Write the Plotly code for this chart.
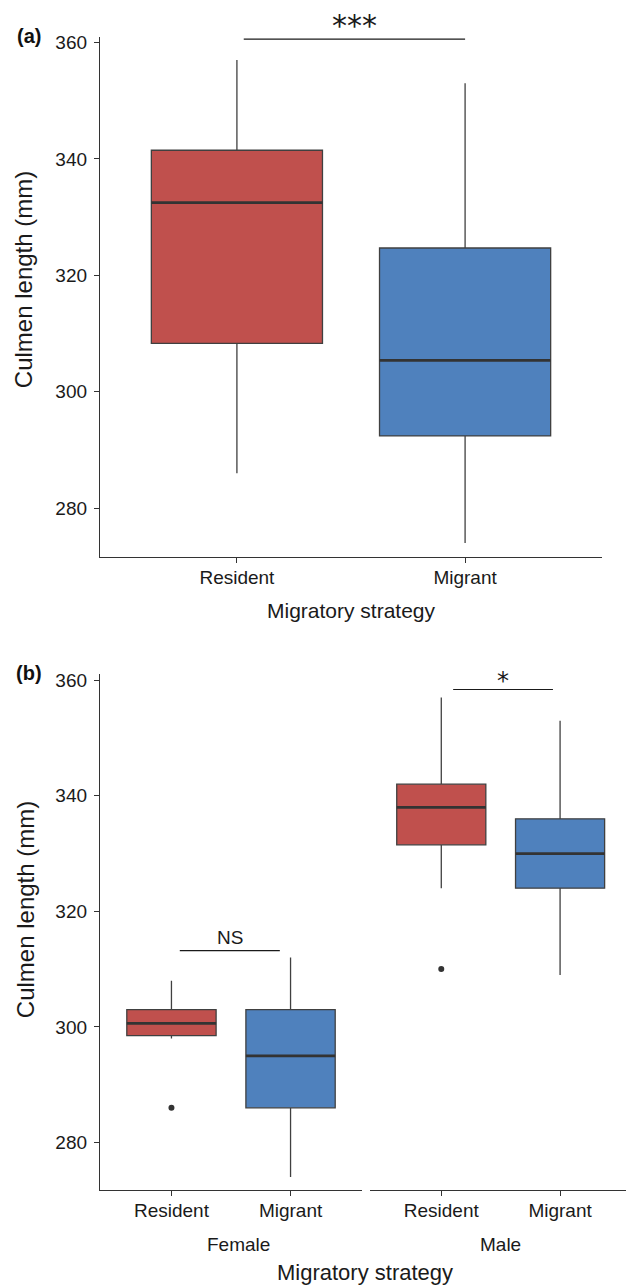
import plotly.graph_objects as go

# ---------------- data ----------------
categories = ["Resident", "Migrant"]
cat_pos = [1, 2]
colors = ["#C0504D", "#4F81BD"]

# panel (a): all birds
a_lowerfence = [286, 274]
a_q1 = [308.3, 292.4]
a_median = [332.5, 305.4]
a_q3 = [341.5, 324.7]
a_upperfence = [357, 353]

# panel (b): female
f_lowerfence = [298, 274]
f_q1 = [298.5, 286]
f_median = [300.6, 295]
f_q3 = [303, 303]
f_upperfence = [308, 312]
f_outliers = [[286], []]

# panel (b): male
m_lowerfence = [324, 309]
m_q1 = [331.5, 324]
m_median = [338, 330]
m_q3 = [342, 336]
m_upperfence = [357, 353]
m_outliers = [[310], []]

sexes = ["Female", "Male"]
y_ticks = [280, 300, 320, 340, 360]

# significance annotations: label, bar y, bar x-from, bar x-to
sig_labels = ["***", "NS", "*"]
sig_bar_y = [360.6, 313.2, 358.4]
sig_x0 = [1.03, 1.07, 1.10]
sig_x1 = [2.0, 1.91, 1.94]

# ---------------- layout helpers ----------------
W, H = 626, 1285
FONT = "Liberation Sans, Arial, sans-serif"
DARK = "#333333"
BOXW = 0.75


def px_x(p):
    return p / W


def px_y(p):
    return 1 - p / H


fig = go.Figure()


def add_panel(xa, ya, q1, med, q3, lo, hi, outliers=None):
    for i, cat in enumerate(categories):
        fig.add_trace(go.Box(
            x=[cat_pos[i]], q1=[q1[i]], median=[med[i]], q3=[q3[i]],
            lowerfence=[lo[i]], upperfence=[hi[i]],
            width=BOXW, whiskerwidth=0, boxpoints=False,
            fillcolor=colors[i], line=dict(color="#404040", width=1.3),
            xaxis=xa, yaxis=ya, showlegend=False, name=cat,
        ))
        # thicker median line
        fig.add_trace(go.Scatter(
            x=[cat_pos[i] - BOXW / 2, cat_pos[i] + BOXW / 2],
            y=[med[i], med[i]], mode="lines",
            line=dict(color=DARK, width=2.8),
            xaxis=xa, yaxis=ya, showlegend=False, hoverinfo="skip",
        ))
        if outliers and outliers[i]:
            fig.add_trace(go.Scatter(
                x=[cat_pos[i]] * len(outliers[i]), y=outliers[i], mode="markers",
                marker=dict(color=DARK, size=6),
                xaxis=xa, yaxis=ya, showlegend=False,
            ))


add_panel("x", "y", a_q1, a_median, a_q3, a_lowerfence, a_upperfence)
add_panel("x2", "y2", f_q1, f_median, f_q3, f_lowerfence, f_upperfence, f_outliers)
add_panel("x3", "y3", m_q1, m_median, m_q3, m_lowerfence, m_upperfence, m_outliers)

axis_common = dict(
    showgrid=False, zeroline=False, showline=True, linecolor=DARK, linewidth=1.3,
    ticks="outside", ticklen=5, tickwidth=1.3, tickcolor=DARK,
    tickfont=dict(family=FONT, size=19, color="#1a1a1a"),
)
xaxis_common = dict(axis_common, ticklabelstandoff=-2)
yaxis_common = dict(axis_common, ticklabelstandoff=3)

ya_dom = [px_y(554.3), px_y(32.7)]
yb_dom = [px_y(1189.3), px_y(671.7)]

fig.update_layout(
    width=W, height=H, margin=dict(l=0, r=0, t=0, b=0),
    paper_bgcolor="white", plot_bgcolor="white",
    font=dict(family=FONT, color="#1a1a1a"),
    xaxis=dict(domain=[px_x(100), px_x(602)], anchor="y", range=[0.4, 2.6],
               tickvals=cat_pos, ticktext=categories, **xaxis_common),
    yaxis=dict(domain=ya_dom, anchor="x", range=[271.67, 361.03],
               tickvals=y_ticks, **yaxis_common),
    xaxis2=dict(domain=[px_x(100), px_x(362)], anchor="y2", range=[0.4, 2.6],
                tickvals=cat_pos, ticktext=categories, **xaxis_common),
    yaxis2=dict(domain=yb_dom, anchor="x2", range=[271.84, 361.14],
                tickvals=y_ticks, **yaxis_common),
    xaxis3=dict(domain=[px_x(370), 1.0], anchor="y3",
                range=[0.4, 0.4 + (626 - 370) / 118.8],
                tickvals=cat_pos, ticktext=categories, **xaxis_common),
    yaxis3=dict(domain=yb_dom, anchor="x3", range=[271.84, 361.14], matches="y2",
                showgrid=False, zeroline=False, showline=False,
                showticklabels=False, ticks=""),
)

# significance bars + labels
sig_axes = [("x", "y"), ("x2", "y2"), ("x3", "y3")]
sig_sizes = [30, 19, 24]
sig_shift = [14, 13, 8]
sig_fonts = ["DejaVu Sans", FONT, "DejaVu Sans"]
for k, (xa, ya) in enumerate(sig_axes):
    fig.add_shape(type="line", xref=xa, yref=ya,
                  x0=sig_x0[k], x1=sig_x1[k], y0=sig_bar_y[k], y1=sig_bar_y[k],
                  line=dict(color="#1a1a1a", width=1.1))
    fig.add_annotation(xref=xa, yref=ya, x=(sig_x0[k] + sig_x1[k]) / 2,
                       y=sig_bar_y[k], yshift=sig_shift[k], text=sig_labels[k],
                       showarrow=False, xanchor="center", yanchor="middle",
                       font=dict(family=sig_fonts[k], size=sig_sizes[k], color="#1a1a1a"))

# facet labels
fig.add_annotation(xref="x2", yref="paper", x=1.56, y=px_y(1244), text=sexes[0],
                   showarrow=False, xanchor="center", yanchor="middle",
                   font=dict(family=FONT, size=19, color="#1a1a1a"))
fig.add_annotation(xref="x3", yref="paper", x=1.5, y=px_y(1244), text=sexes[1],
                   showarrow=False, xanchor="center", yanchor="middle",
                   font=dict(family=FONT, size=19, color="#1a1a1a"))

# axis titles
for xc, yc, size in [(351, 608, 21), (365, 1272, 22)]:
    fig.add_annotation(xref="paper", yref="paper", x=px_x(xc), y=px_y(yc),
                       text="Migratory strategy", showarrow=False,
                       xanchor="center", yanchor="middle",
                       font=dict(family=FONT, size=size, color="#1a1a1a"))
for xc, yc in [(23, 277), (25, 909)]:
    fig.add_annotation(xref="paper", yref="paper", x=px_x(xc), y=px_y(yc),
                       text="Culmen length (mm)", showarrow=False, textangle=-90,
                       xanchor="center", yanchor="middle",
                       font=dict(family=FONT, size=24, color="#1a1a1a"))

# panel tags
for txt, xc, yc in [("(a)", 28.5, 32), ("(b)", 29, 671)]:
    fig.add_annotation(xref="paper", yref="paper", x=px_x(xc), y=px_y(yc),
                       text="<b>" + txt + "</b>", showarrow=False,
                       xanchor="center", yanchor="middle",
                       font=dict(family=FONT, size=20, color="#111111"))

fig.write_html("out.html")
